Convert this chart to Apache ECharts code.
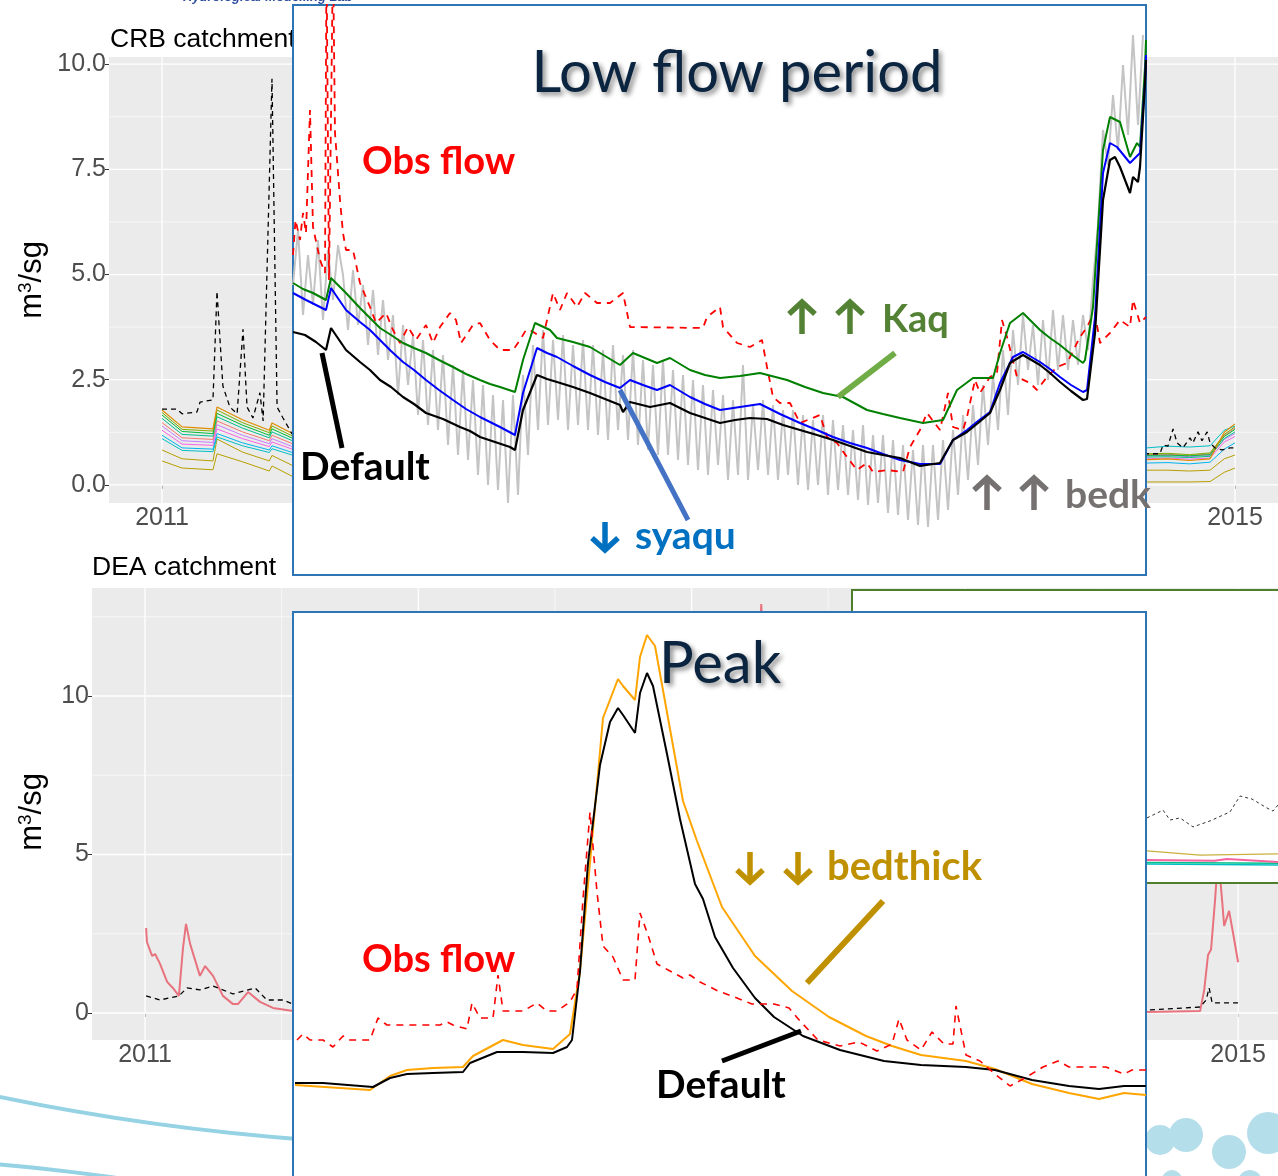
<!DOCTYPE html>
<html><head><meta charset="utf-8">
<script src="https://cdn.jsdelivr.net/npm/echarts@6/dist/echarts.min.js"></script>
<style>html,body{margin:0;padding:0;background:#fff;overflow:hidden}#c{width:1278px;height:1176px}</style>
</head><body><div id="c"></div>
<script>
// ================= DATA =================
// background panel ticks (years / flow in m3/s)
const yearTicks = [2011, 2012, 2013, 2014, 2015];
const yearMinor = [2011.5, 2012.5, 2013.5, 2014.5];
const crbYTicks = [0, 2.5, 5, 7.5, 10];
const crbYMinor = [1.25, 3.75, 6.25, 8.75];
const deaYTicks = [0, 5, 10];
const deaYMinor = [2.5, 7.5, 12.5];

// CRB catchment: observed flow (black dashed), visible parts
const crbObs = [[2011.0,1.8],[2011.056,1.8],[2011.075,1.69],[2011.13,1.73],[2011.142,1.97],[2011.19,2.02],[2011.205,4.6],[2011.227,2.35],[2011.253,1.85],[2011.28,1.69],[2011.302,3.7],[2011.317,1.85],[2011.339,1.59],[2011.365,2.19],[2011.377,1.52],[2011.41,9.65],[2011.429,1.85],[2011.451,1.59],[2011.485,1.21],
  [2014.672,0.74],[2014.72,0.74],[2014.732,0.95],[2014.75,0.92],[2014.769,1.33],[2014.784,1.0],[2014.806,0.88],[2014.832,1.12],[2014.843,1.0],[2014.862,1.26],[2014.877,1.05],[2014.896,1.26],[2014.907,1.0],[2014.925,0.88],[2014.952,0.83],[2014.981,0.88],[2015.0,0.88]];
// CRB catchment: simulated runs (sampled dates, left + right visible parts)
const crbRunYears = [2011.0,2011.075,2011.19,2011.205,2011.30,2011.40,2011.41,2011.49, 2014.672,2014.75,2014.83,2014.907,2014.96,2015.0];
const crbRunOrange  = [1.78,1.38,1.33,1.85,1.55,1.30,1.47,1.21, 0.60,0.62,0.58,0.62,1.25,1.45];
const crbRunLime    = [1.72,1.32,1.28,1.78,1.48,1.24,1.40,1.15, 0.74,0.75,0.72,0.76,1.20,1.38];
const crbRunGreen   = [1.66,1.27,1.22,1.70,1.42,1.18,1.33,1.10, 0.70,0.71,0.69,0.72,1.15,1.32];
const crbRunTeal    = [1.58,1.20,1.16,1.62,1.35,1.12,1.26,1.04, 0.66,0.67,0.65,0.68,1.10,1.26];
const crbRunSalmon  = [1.48,1.12,1.08,1.52,1.26,1.05,1.18,0.97, 0.72,0.73,0.70,0.74,1.17,1.35];
const crbRunPurple  = [1.40,1.05,1.01,1.43,1.18,0.98,1.10,0.90, 0.68,0.70,0.67,0.70,1.08,1.22];
const crbRunMagenta = [1.30,0.97,0.94,1.33,1.10,0.91,1.02,0.84, 0.62,0.64,0.61,0.64,1.02,1.15];
const crbRunBlue    = [1.18,0.88,0.85,1.22,1.00,0.83,0.93,0.76, 0.52,0.53,0.50,0.54,0.85,1.00];
const crbRunCyan    = [1.10,0.82,0.79,1.14,0.93,0.77,0.86,0.70, 0.88,0.92,0.90,0.93,1.30,1.40];
const crbRunGold    = [0.83,0.62,0.57,1.09,0.78,0.57,0.70,0.45, 0.35,0.35,0.33,0.35,0.62,0.71];
const crbRunGoldLow = [0.57,0.40,0.36,0.74,0.55,0.33,0.45,0.19, 0.07,0.07,0.07,0.08,0.30,0.40];

// DEA catchment
const deaSim = [[2011.004,2.68],[2011.007,2.24],[2011.026,1.8],[2011.037,1.86],[2011.055,1.55],[2011.081,0.98],[2011.102,0.79],[2011.124,0.54],[2011.139,2.05],[2011.15,2.81],[2011.165,2.18],[2011.201,1.17],[2011.22,1.48],[2011.249,1.17],[2011.285,0.54],[2011.322,0.28],[2011.34,0.28],[2011.377,0.66],[2011.421,0.35],[2011.468,0.16],[2011.542,0.06],[2013.2,0.4],[2013.255,12.9],[2013.3,4.0],[2014.667,0.03],[2014.861,0.06],[2014.876,0.73],[2014.89,1.83],[2014.901,2.0],[2014.916,3.6],[2014.927,5.0],[2014.942,3.5],[2014.949,2.75],[2014.967,3.22],[2014.982,2.5],[2015.0,1.6]];
const deaObs = [[2011.004,0.54],[2011.055,0.41],[2011.124,0.54],[2011.154,0.79],[2011.201,0.73],[2011.249,0.85],[2011.322,0.6],[2011.403,0.79],[2011.446,0.41],[2011.505,0.41],[2011.542,0.28],[2014.667,0.09],[2014.861,0.19],[2014.883,0.41],[2014.894,0.79],[2014.905,0.32],[2014.934,0.32],[2015.0,0.32]];

// partially hidden overlay chart (green frame)
const boxObs  = [[118,2.17],[124.4,2.43],[127.2,2.1],[131.2,2.17],[136.4,1.87],[143.2,2.07],[151.2,2.37],[155.2,2.9],[160,2.8],[166,2.5],[168.4,2.4],[170.4,2.6]];
const boxGold = [[118,1.07],[139.2,0.93],[170.4,0.97]];
const boxPink = [[118,0.77],[145,0.74],[150,0.8],[170.4,0.7]];
const boxTeal = [[118,0.68],[170.4,0.66]];
const boxCyan = [[118,0.63],[170.4,0.6]];

// "Low flow period" zoom (day index, flow)
const lowObs = [[0,3.2],[1,3.55],[2.8,3.35],[4,3.62],[5.2,3.42],[6.8,4.65],[8,3.48],[10.8,3.15],[12.8,3.02],[13.4,6.2],[14.4,2.95],[16,6.2],[16.8,4.42],[18.8,3.75],[20,3.42],[21.2,3.25],[24,3.25],[26.8,2.92],[30.8,2.68],[33.2,2.52],[37.2,2.62],[40,2.45],[42.8,2.32],[46,2.48],[49.2,2.35],[53.2,2.5],[56,2.32],[58.8,2.48],[62.8,2.62],[65.2,2.55],[67.2,2.32],[72,2.5],[74.8,2.52],[78.8,2.35],[82.8,2.25],[88,2.25],[90.8,2.35],[93.2,2.45],[94.8,2.45],[100,2.37],[104,2.82],[106.8,2.65],[109.6,2.82],[113.6,2.68],[116.8,2.82],[121.6,2.72],[126.8,2.72],[132,2.82],[134.8,2.48],[164,2.47],[165.6,2.58],[170.8,2.68],[172,2.48],[177.6,2.32],[182.8,2.28],[187.6,2.35],[189.6,2.08],[192,1.78],[194.8,1.72],[198.8,1.72],[202.8,1.52],[210.8,1.6],[213.6,1.38],[217.6,1.32],[221.6,1.18],[225.6,1.05],[229.6,1.12],[232,1.03],[237.6,1.05],[244,1.03],[246.8,1.28],[250.8,1.45],[253.6,1.62],[258.8,1.45],[262,1.82],[264,1.48],[268,1.45],[269.6,1.58],[272.8,1.95],[274.8,1.82],[278.8,1.98],[281.6,2.02],[283.6,2.55],[285.6,2.38],[289.6,1.98],[294.8,1.92],[297.6,1.85],[301.6,1.98],[305.6,2.08],[309.6,2.12],[314.8,2.38],[317.6,2.48],[319.6,2.58],[320.8,2.62],[322.8,2.32],[326.8,2.42],[330.8,2.55],[334.8,2.48],[336,2.75],[338.8,2.52],[341.2,2.58]];
const lowDefault = [[0,2.43],[4.8,2.4],[9.2,2.33],[13.2,2.25],[15.2,2.47],[21.2,2.25],[26.8,2.13],[30.8,2.05],[34.8,1.95],[39.2,1.88],[44,1.78],[48.4,1.71],[53.2,1.62],[60,1.56],[66.8,1.48],[70.8,1.44],[74.8,1.38],[80.8,1.33],[86.8,1.28],[88.8,1.25],[92,1.65],[97.6,2.0],[101.6,1.96],[105.6,1.93],[112,1.88],[118.8,1.82],[124.8,1.76],[130.8,1.7],[132,1.63],[134.8,1.73],[142.8,1.68],[150.8,1.72],[158.8,1.62],[164.8,1.57],[170.8,1.52],[176.8,1.55],[182.8,1.57],[189.6,1.56],[196,1.5],[202.8,1.45],[209.6,1.4],[216,1.35],[222.8,1.29],[229.6,1.23],[236,1.2],[242.8,1.17],[250.8,1.09],[258.8,1.12],[264,1.35],[269.6,1.43],[274,1.52],[278.8,1.62],[282.8,1.85],[286.8,2.12],[292,2.2],[298.8,2.1],[302.8,2.02],[306.8,1.93],[311.2,1.84],[316,1.75],[317.6,1.76],[320.8,2.42],[324,3.75],[326.8,4.15],[328.8,4.18],[330.8,4.08],[334.8,3.82],[336,3.98],[338,3.93],[338.8,4.08],[340.8,4.92],[341.2,5.15]];
const lowSyaqu = [[0,2.82],[5.2,2.75],[9.2,2.7],[13.2,2.65],[15.2,2.87],[21.2,2.65],[26.8,2.53],[30.8,2.45],[34.8,2.35],[39.2,2.24],[44,2.13],[48.4,2.05],[53.2,1.95],[58.4,1.85],[64,1.75],[69.2,1.66],[74.8,1.58],[78.8,1.53],[82.8,1.48],[88.8,1.4],[92,1.82],[97.6,2.27],[101.6,2.22],[105.6,2.18],[112,2.09],[118.8,2.0],[124.8,1.93],[130.8,1.87],[134.8,1.95],[140,1.9],[145.6,1.85],[150.8,1.9],[158.8,1.78],[164.8,1.71],[170.8,1.65],[178.8,1.68],[186.8,1.71],[194.8,1.61],[202.8,1.52],[209.6,1.45],[216,1.38],[222.8,1.32],[229.6,1.27],[236,1.21],[242.8,1.15],[250.8,1.11],[258.8,1.11],[264,1.35],[269.6,1.45],[274,1.54],[278.8,1.63],[282.8,1.92],[288,2.18],[292,2.23],[298.8,2.13],[302.8,2.06],[306.8,1.98],[311.2,1.9],[316,1.83],[317.6,1.85],[320.8,2.58],[324,4.02],[326.8,4.32],[329.6,4.28],[334.8,4.12],[338.8,4.22],[340.8,4.92],[341.2,5.2]];
const lowKaq = [[0,2.92],[4,2.86],[8,2.82],[13.2,2.75],[15.2,2.97],[21.2,2.82],[26.8,2.67],[30.8,2.57],[34.8,2.47],[39.2,2.4],[44,2.32],[48.4,2.27],[53.2,2.22],[58.4,2.15],[64,2.08],[69.2,2.01],[74.8,1.95],[78.8,1.91],[82.8,1.88],[88.8,1.83],[92,2.15],[96.8,2.52],[102.8,2.45],[105.6,2.37],[112,2.33],[118.8,2.28],[124.8,2.19],[130.8,2.1],[136,2.22],[140.8,2.17],[145.6,2.12],[150.8,2.17],[158.8,2.05],[164.8,2.0],[170.8,1.97],[178.8,1.99],[186.8,2.02],[197.6,1.95],[204.8,1.88],[212,1.82],[220,1.78],[229.6,1.65],[236,1.61],[242.8,1.57],[252,1.52],[260,1.55],[265.6,1.85],[272,1.97],[280,1.97],[282.8,2.22],[286.8,2.52],[292,2.62],[298.8,2.45],[302.8,2.37],[306.8,2.3],[311.2,2.21],[316,2.12],[316.8,2.15],[320,2.68],[324,4.25],[326.8,4.58],[330.8,4.53],[334.8,4.18],[337.6,4.32],[338.8,4.28],[340.8,5.08],[341.2,5.35]];
const lowGreyStep = 2; // days between samples
const lowGrey = [
  2.9,3.45,2.6,3.2,2.7,3.35,2.55,3.25,2.75,3.3,
  3.0,2.45,3.05,2.5,2.9,2.3,2.85,2.2,2.75,2.15,
  2.6,1.8,2.5,1.9,2.4,1.6,2.35,1.5,2.25,1.45,
  2.2,1.3,2.1,1.2,2.05,1.15,1.95,1.0,1.9,0.9,
  1.8,0.85,1.75,0.72,1.8,0.8,2.0,1.2,2.3,1.45,
  2.45,1.5,2.35,1.55,2.4,1.45,2.3,1.5,2.35,1.45,
  2.3,1.4,2.25,1.35,2.3,1.45,2.2,1.35,2.25,1.3,
  2.15,1.25,2.1,1.2,2.15,1.2,2.05,1.15,2.0,1.1,
  1.95,1.05,1.9,1.0,1.85,1.1,1.8,0.95,1.75,1.0,
  2.1,0.95,1.7,1.05,1.75,1.0,1.7,0.95,1.65,1.0,
  1.65,0.9,1.6,0.85,1.55,0.9,1.6,0.8,1.55,0.85,
  1.5,0.8,1.45,0.75,1.5,0.7,1.4,0.72,1.4,0.62,
  1.35,0.6,1.3,0.55,1.25,0.5,1.3,0.48,1.3,0.55,
  1.35,0.65,1.45,0.8,1.6,0.95,1.7,1.1,1.9,1.3,
  2.0,1.45,2.25,1.6,2.45,1.9,2.6,2.05,2.5,1.9,
  2.55,1.95,2.65,2.05,2.6,2.05,2.55,2.1,2.6,2.25,
  2.95,3.5,4.45,4.1,4.8,4.25,5.1,4.4,5.4,4.5,5.4];

// "Peak" zoom (day index, flow)
const peakObs = [[1.6,1.36],[4,1.42],[6.8,1.36],[12,1.36],[16,1.29],[20,1.4],[22.8,1.36],[30.8,1.36],[34,1.58],[37.6,1.51],[58.8,1.51],[61.6,1.54],[64,1.51],[69.6,1.47],[71.6,1.73],[74.8,1.58],[80,1.58],[82,2.01],[84,1.65],[92,1.65],[97.6,1.73],[101.6,1.65],[105.6,1.65],[110.8,1.74],[113.6,1.87],[116,2.77],[118.8,3.64],[121.6,2.84],[124,2.3],[128,2.19],[132,1.96],[136.8,1.96],[138.8,2.63],[142,2.41],[145.6,2.12],[150.8,2.05],[156,1.98],[158.8,2.01],[162.8,1.94],[170,1.85],[177.6,1.78],[183.6,1.72],[192.4,1.72],[198.4,1.68],[202.8,1.55],[210,1.36],[218.8,1.3],[226.4,1.34],[233.6,1.25],[239.6,1.32],[242.4,1.57],[245.6,1.36],[251.2,1.26],[255.6,1.44],[260.4,1.32],[264,1.32],[265.2,1.7],[269.2,1.21],[274.8,1.15],[280.8,1.02],[286.8,0.9],[292.8,0.98],[300,1.09],[306,1.15],[310.4,1.09],[325.2,1.09],[332.4,1.02],[335.6,1.06],[341.2,1.06]];
const peakDefault = [[0.8,0.93],[12,0.93],[22,0.91],[32,0.89],[38.8,0.98],[45.6,1.02],[56,1.03],[68,1.04],[70.8,1.13],[81.6,1.24],[92,1.24],[104,1.23],[109.6,1.29],[111.6,1.36],[114.8,2.05],[118,3.13],[122.8,4.11],[126.8,4.54],[130,4.68],[132,4.61],[136.8,4.43],[138.8,4.83],[141.6,5.03],[144,4.9],[149.6,4.22],[154.8,3.57],[160.8,2.92],[164,2.77],[168.8,2.39],[176,2.08],[184.8,1.78],[192.4,1.59],[204,1.4],[218.8,1.26],[236.4,1.15],[251.2,1.11],[269.2,1.09],[280.8,1.06],[295.6,0.96],[310.4,0.9],[322.4,0.87],[332.4,0.9],[341.2,0.9]];
const peakBedthick = [[0.8,0.91],[18.8,0.88],[30.8,0.86],[38.8,1.0],[45.6,1.06],[56,1.08],[68,1.09],[72,1.2],[84,1.36],[92,1.31],[104,1.27],[110.8,1.42],[114.8,2.05],[118.8,3.13],[124,4.58],[130,4.97],[132,4.9],[136.8,4.76],[138.8,5.19],[141.6,5.41],[144.8,5.3],[150.8,4.47],[156,3.75],[161.6,3.35],[171.6,2.69],[184.8,2.2],[199.6,1.85],[214.4,1.59],[229.2,1.4],[239.6,1.3],[251.2,1.21],[269.2,1.15],[280.8,1.07],[295.6,0.92],[310.4,0.83],[322.4,0.77],[332.4,0.83],[341.2,0.81]];

// ================= CHART =================
const FONT_R = 'Liberation Sans, Arial, sans-serif';
const FONT_S = 'Lato, "Open Sans", sans-serif';
const zip = (xs, ys) => xs.map((x, i) => [x, ys[i]]);
const greyPairs = lowGrey.map((v, i) => [i * lowGreyStep, v]);

function gridItems(xMaj, xMin, yMaj, yMin) {
  return [].concat(
    xMin.map(v => [0, v, 0]), yMin.map(v => [1, v, 0]),
    xMaj.map(v => [0, v, 1]), yMaj.map(v => [1, v, 1]));
}
function gridRender(params, api) {
  const cs = params.coordSys;
  const dir = api.value(0), v = api.value(1), major = api.value(2);
  const w = major ? 1.3 : 0.6;
  if (dir === 0) {
    const x = api.coord([v, 0])[0];
    return {type: 'line', shape: {x1: x, y1: cs.y, x2: x, y2: cs.y + cs.height}, style: {stroke: '#ffffff', lineWidth: w}};
  }
  const y = api.coord([2013, v])[1];
  return {type: 'line', shape: {x1: cs.x, y1: y, x2: cs.x + cs.width, y2: y}, style: {stroke: '#ffffff', lineWidth: w}};
}
function ln(xi, data, color, width, z, extra) {
  return Object.assign({type: 'line', xAxisIndex: xi, yAxisIndex: xi, data: data, showSymbol: false, symbol: 'none',
    silent: true, z: z, lineStyle: {color: color, width: width}}, extra || {});
}
function bgX(i, min, max) {
  return {gridIndex: i, type: 'value', min: min, max: max, axisLine: {show: false}, splitLine: {show: false},
    axisTick: {show: true, length: 4, lineStyle: {color: '#333', width: 1}, customValues: yearTicks},
    axisLabel: {customValues: yearTicks, formatter: v => String(Math.round(v)), fontSize: 25, color: '#4D4D4D', fontFamily: FONT_R, margin: 3}};
}
function bgY(i, min, max, ticks, fmt) {
  return {gridIndex: i, type: 'value', min: min, max: max, axisLine: {show: false}, splitLine: {show: false},
    axisTick: {show: true, length: 4, lineStyle: {color: '#333', width: 1}, customValues: ticks},
    axisLabel: {customValues: ticks, formatter: fmt, fontSize: 25, color: '#4D4D4D', fontFamily: FONT_R, margin: 3}};
}
function hidAx(i, min, max) {
  return {gridIndex: i, type: 'value', min: min, max: max, show: false, splitLine: {show: false}};
}
function txt(x, y, text, color, size, extra) {
  return {type: 'text', x: x, y: y, z: 30, silent: true,
    style: Object.assign({text: text, fill: color, font: 'bold ' + size + 'px ' + FONT_S, verticalAlign: 'middle', align: 'left'}, extra || {})};
}
// thick slide arrow glyph (annotation)
function arrowG(cx, yTop, yBot, color, up) {
  const hw = 13, hh = 13, lw = 5.5;
  const tip = up ? yTop : yBot;
  const s = up ? 1 : -1;
  return {type: 'group', silent: true, children: [
    {type: 'line', z: 30, shape: {x1: cx, y1: up ? yTop + 3 : yTop, x2: cx, y2: up ? yBot : yBot - 3}, style: {stroke: color, lineWidth: lw}},
    {type: 'polyline', z: 30, shape: {points: [[cx - hw, tip + s * hh], [cx, tip + s * 1], [cx + hw, tip + s * hh]]}, style: {stroke: color, lineWidth: lw, fill: null, lineJoin: 'miter'}}
  ]};
}
function pointer(x1, y1, x2, y2, color, w) {
  return {type: 'line', z: 30, silent: true, shape: {x1: x1, y1: y1, x2: x2, y2: y2}, style: {stroke: color, lineWidth: w}};
}
const titleStyle = {fill: '#0B2540', textShadowColor: 'rgba(0,0,0,0.45)', textShadowBlur: 5, textShadowOffsetX: 3, textShadowOffsetY: 3, align: 'center', verticalAlign: 'middle'};
const yTitleRich = {a: {fontSize: 31, fontFamily: FONT_R, fill: '#000'}, b: {fontSize: 19, fontFamily: FONT_R, fill: '#000', verticalAlign: 'top'}};

const option = {
  animation: false,
  backgroundColor: '#ffffff',
  grid: [
    {left: 109, top: 57, width: 1169, height: 446, show: true, backgroundColor: '#EBEBEB', borderWidth: 0, z: 0, containLabel: false, outerBoundsMode: 'none'},
    {left: 92, top: 588, width: 1186, height: 452, show: true, backgroundColor: '#EBEBEB', borderWidth: 0, z: 0, containLabel: false, outerBoundsMode: 'none'},
    {left: 852, top: 590, width: 440, height: 293, show: true, backgroundColor: '#ffffff', borderColor: '#4F7F2C', borderWidth: 2, z: 6, containLabel: false, outerBoundsMode: 'none'},
    {left: 293, top: 5, width: 853, height: 570, show: true, backgroundColor: '#ffffff', borderColor: '#2E75B6', borderWidth: 2, z: 10, containLabel: false, outerBoundsMode: 'none'},
    {left: 293, top: 612, width: 853, height: 600, show: true, backgroundColor: '#ffffff', borderColor: '#2E75B6', borderWidth: 2, z: 10, containLabel: false, outerBoundsMode: 'none'}
  ],
  xAxis: [bgX(0, 2010.8024, 2015.1603), bgX(1, 2010.806, 2015.146), hidAx(2, 0, 176), hidAx(3, 0, 341.2), hidAx(4, 0, 341.2)],
  yAxis: [bgY(0, -0.43, 10.17, crbYTicks, v => v.toFixed(1)), bgY(1, -0.852, 13.407, deaYTicks, v => String(Math.round(v))),
          hidAx(2, 0, 9.77), hidAx(3, 0, 5.7), hidAx(4, -0.36, 5.64)],
  series: [
    // CRB background
    {type: 'custom', xAxisIndex: 0, yAxisIndex: 0, z: 1, silent: true, renderItem: gridRender, data: gridItems(yearTicks, yearMinor, crbYTicks, crbYMinor)},
    ln(0, zip(crbRunYears, crbRunGoldLow), '#B79F00', 1, 3),
    ln(0, zip(crbRunYears, crbRunGold), '#B79F00', 1, 3),
    ln(0, zip(crbRunYears, crbRunCyan), '#00BFC4', 1, 3),
    ln(0, zip(crbRunYears, crbRunBlue), '#00B4F0', 1, 3),
    ln(0, zip(crbRunYears, crbRunMagenta), '#F564E3', 1, 3),
    ln(0, zip(crbRunYears, crbRunPurple), '#C77CFF', 1, 3),
    ln(0, zip(crbRunYears, crbRunSalmon), '#F8766D', 1, 3),
    ln(0, zip(crbRunYears, crbRunTeal), '#00C08B', 1, 3),
    ln(0, zip(crbRunYears, crbRunGreen), '#00BA38', 1, 3),
    ln(0, zip(crbRunYears, crbRunLime), '#7CAE00', 1, 3),
    ln(0, zip(crbRunYears, crbRunOrange), '#DE8C00', 1.2, 3),
    ln(0, crbObs, '#000000', 1.3, 4, {lineStyle: {color: '#000', width: 1.3, type: [5, 4]}}),
    // DEA background
    {type: 'custom', xAxisIndex: 1, yAxisIndex: 1, z: 1, silent: true, renderItem: gridRender, data: gridItems(yearTicks, yearMinor, deaYTicks, deaYMinor)},
    ln(1, deaSim, '#E8737E', 2, 3),
    ln(1, deaObs, '#000000', 1.3, 4, {lineStyle: {color: '#000', width: 1.3, type: [5, 4]}}),
    // overlay chart in green frame
    ln(2, boxCyan, '#00BFC4', 1.5, 7),
    ln(2, boxTeal, '#00C08B', 1.5, 7),
    ln(2, boxPink, '#F564A0', 2, 7),
    ln(2, boxGold, '#C9B040', 1.2, 7),
    ln(2, boxObs, '#333333', 1, 7, {lineStyle: {color: '#333', width: 1, type: [3, 3]}}),
    // Low flow period
    ln(3, greyPairs, '#C4C4C4', 2, 12),
    ln(3, lowObs, '#FF0000', 1.8, 13, {lineStyle: {color: '#FF0000', width: 1.8, type: [7, 6]}}),
    ln(3, lowKaq, '#008000', 2, 14),
    ln(3, lowSyaqu, '#0000FF', 2, 15),
    ln(3, lowDefault, '#000000', 2.2, 16),
    // Peak
    ln(4, peakBedthick, '#FFA500', 2, 12),
    ln(4, peakDefault, '#000000', 2, 13),
    ln(4, peakObs, '#FF0000', 1.6, 14, {lineStyle: {color: '#FF0000', width: 1.6, type: [7, 6]}})
  ],
  graphic: [
    // slide decorations
    {type: 'bezierCurve', z: 1, silent: true, shape: {x1: -5, y1: 1096, cpx1: 100, cpy1: 1118, cpx2: 200, cpy2: 1132, x2: 310, y2: 1140}, style: {stroke: '#94D2E4', lineWidth: 4, fill: null}},
    {type: 'bezierCurve', z: 1, silent: true, shape: {x1: -5, y1: 1164, cpx1: 40, cpy1: 1168, cpx2: 80, cpy2: 1172, x2: 130, y2: 1180}, style: {stroke: '#94D2E4', lineWidth: 4, fill: null}},
    {type: 'circle', z: 1, silent: true, shape: {cx: 1160, cy: 1140, r: 15}, style: {fill: '#B5DEEB'}},
    {type: 'circle', z: 1, silent: true, shape: {cx: 1186, cy: 1135, r: 17}, style: {fill: '#B5DEEB'}},
    {type: 'circle', z: 1, silent: true, shape: {cx: 1229, cy: 1152, r: 17}, style: {fill: '#B5DEEB'}},
    {type: 'circle', z: 1, silent: true, shape: {cx: 1268, cy: 1133, r: 21}, style: {fill: '#B5DEEB'}},
    {type: 'circle', z: 1, silent: true, shape: {cx: 1172, cy: 1180, r: 10}, style: {fill: '#B5DEEB'}},
    {type: 'circle', z: 1, silent: true, shape: {cx: 1250, cy: 1182, r: 12}, style: {fill: '#B5DEEB'}},
    {type: 'text', x: 183, y: -3, z: 1, silent: true, style: {text: 'Hydrological Modelling Lab', fill: '#2C4C9C', font: 'italic bold 13px ' + FONT_R, verticalAlign: 'middle'}},
    // background chart titles
    {type: 'text', x: 110, y: 40, z: 1, silent: true, style: {text: 'CRB catchment', fill: '#000', font: '26.5px ' + FONT_R, verticalAlign: 'middle'}},
    {type: 'text', x: 92, y: 568, z: 1, silent: true, style: {text: 'DEA catchment', fill: '#000', font: '26.5px ' + FONT_R, verticalAlign: 'middle'}},
    {type: 'text', x: 32, y: 280, rotation: Math.PI / 2, z: 1, silent: true, style: {text: '{a|m}{b|3}{a|/sg}', align: 'center', verticalAlign: 'middle', rich: yTitleRich}},
    {type: 'text', x: 32, y: 812, rotation: Math.PI / 2, z: 1, silent: true, style: {text: '{a|m}{b|3}{a|/sg}', align: 'center', verticalAlign: 'middle', rich: yTitleRich}},
    // Low flow annotations
    {type: 'text', x: 737, y: 73, z: 30, silent: true, style: Object.assign({text: 'Low flow period', font: '58px ' + FONT_S}, titleStyle)},
    txt(362, 162, 'Obs flow', '#FF0000', 38),
    arrowG(802, 301, 334, '#548235', true), arrowG(850, 301, 334, '#548235', true), txt(882, 320, 'Kaq', '#548235', 38),
    pointer(895, 353, 838, 397, '#70AD47', 6),
    txt(300, 467, 'Default', '#000000', 39),
    pointer(322, 353, 342, 448, '#000000', 5),
    arrowG(605, 522, 551, '#0070C0', false), txt(635, 536, 'syaqu', '#0070C0', 39),
    pointer(620, 390, 688, 520, '#4472C4', 5),
    arrowG(987, 477, 510, '#767171', true), arrowG(1034, 477, 510, '#767171', true), txt(1065, 495, 'bedk', '#767171', 39),
    // Peak annotations
    {type: 'text', x: 720, y: 664, z: 30, silent: true, style: Object.assign({text: 'Peak', font: '58px ' + FONT_S}, titleStyle)},
    txt(362, 960, 'Obs flow', '#FF0000', 38),
    arrowG(750, 852, 883, '#BF9000', false), arrowG(798, 852, 883, '#BF9000', false), txt(827, 867, 'bedthick', '#BF9000', 40),
    pointer(883, 901, 807, 983, '#BF9000', 6),
    txt(656, 1085, 'Default', '#000000', 39),
    pointer(801, 1031, 722, 1061, '#000000', 5)
  ]
};
const chart = echarts.init(document.getElementById('c'), null, {renderer: 'canvas', width: 1278, height: 1176});
chart.setOption(option);
</script>
</body></html>
